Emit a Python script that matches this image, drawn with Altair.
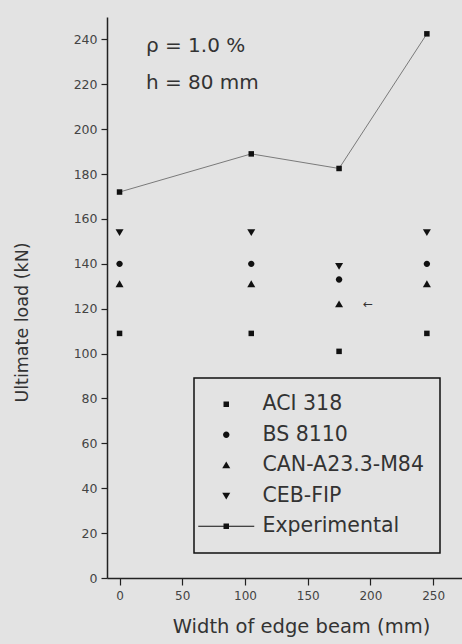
import altair as alt
import pandas as pd

# ---- data ----
width_mm = [0, 105, 175, 245]
aci_318 = [109, 109, 101, 109]
bs_8110 = [140, 140, 133, 140]
can_a23 = [131, 131, 122, 131]
ceb_fip = [154, 154, 139, 154]
experimental = [172, 189, 182.5, 242.5]

series = ["ACI 318", "BS 8110", "CAN-A23.3-M84", "CEB-FIP", "Experimental"]

y_ticks = [0, 10, 20, 30, 40, 50, 60, 70, 80, 90, 100, 110, 120, 130, 140,
           150, 160, 170, 180, 190, 200, 210, 220, 230, 240, 250]
x_ticks = [0, 25, 50, 75, 100, 125, 150, 175, 200, 225, 250]

annot_x = [21, 21]
annot_y = [237, 220.5]
annot_text = ["\u03c1 = 1.0 %", "h = 80 mm"]

arrow_x = [198]
arrow_y = [122]
arrow_text = ["\u2190"]

# ---- symbol paths (unit = 5 px at size 100) ----
P_SQ = "M-0.55,-0.55H0.55V0.55H-0.55Z"
P_CI = "M-0.64,0A0.64,0.64 0 1,0 0.64,0A0.64,0.64 0 1,0 -0.64,0Z"
P_TU = "M0,-0.74L0.8,0.62H-0.8Z"
P_TD = "M0,0.74L0.8,-0.62H-0.8Z"
P_EX = "M-5.6,-0.1H5.6V0.1H-5.6Z M-0.55,-0.55H0.55V0.55H-0.55Z"

rows = []
for name, vals in zip(series[:4], [aci_318, bs_8110, can_a23, ceb_fip]):
    for w, v in zip(width_mm, vals):
        rows.append({"w": w, "load": v, "method": name})
calc_df = pd.DataFrame(rows)
exp_df = pd.DataFrame({"w": width_mm, "load": experimental})
annot_df = pd.DataFrame({"x": annot_x, "y": annot_y, "t": annot_text})
arrow_df = pd.DataFrame({"x": arrow_x, "y": arrow_y, "t": arrow_text})

FONT = "DejaVu Sans"
AX = "#222222"

x_scale = alt.Scale(domain=[-10, 273], nice=False, zero=False)
y_scale = alt.Scale(domain=[0, 250], nice=False)

x_axis = alt.Axis(
    values=x_ticks,
    labelExpr="datum.value % 50 === 0 ? datum.label : ''",
    tickSize={"condition": {"test": "datum.value % 50 === 0", "value": 7}, "value": 4},
    grid=False, domainColor=AX, domainWidth=1.5, tickColor=AX, tickWidth=1.2,
    labelFont=FONT, labelFontSize=12, labelColor="#444444", labelPadding=5,
    title="Width of edge beam (mm)", titleFont=FONT, titleFontSize=19.5,
    titleFontWeight="normal", titleColor="#333333",
    titleX=194, titleY=54, titleAlign="center", titleBaseline="alphabetic",
)
y_axis = alt.Axis(
    values=y_ticks,
    labelExpr="datum.value % 20 === 0 ? datum.label : ''",
    tickSize={"condition": {"test": "datum.value % 20 === 0", "value": 6}, "value": 3},
    grid=False, domainColor=AX, domainWidth=1.5, tickColor=AX, tickWidth=1.2,
    labelFont=FONT, labelFontSize=12.5, labelColor="#444444", labelPadding=4,
    title="Ultimate load (kN)", titleFont=FONT, titleFontSize=17.5,
    titleFontWeight="normal", titleColor="#333333",
    titleX=-80, titleY=305, titleAngle=270, titleAlign="center",
    titleBaseline="alphabetic",
)

base_x = alt.X("w:Q", scale=x_scale, axis=x_axis)
base_y = alt.Y("load:Q", scale=y_scale, axis=y_axis)

line = alt.Chart(exp_df).mark_line(color="#7a7a7a", strokeWidth=1).encode(
    x=base_x, y=base_y
)

calc_pts = alt.Chart(calc_df).mark_point(
    filled=True, size=100, color="#111111", opacity=1
).encode(
    x=base_x,
    y=base_y,
    shape=alt.Shape(
        "method:N",
        scale=alt.Scale(domain=series, range=[P_SQ, P_CI, P_TU, P_TD, P_EX]),
        legend=alt.Legend(
            orient="none", legendX=87, legendY=361, title=None,
            strokeColor="#111111", padding=16,
            labelFont=FONT, labelFontSize=20.5, labelColor="#333333",
            labelExpr="datum.label + '\u2002'", labelLimit=300,
            rowPadding=9.5, symbolOffset=6, labelOffset=26,
            symbolSize=100, symbolFillColor="#111111",
        ),
    ),
)

exp_pts = alt.Chart(exp_df).mark_point(
    filled=True, size=100, color="#111111", opacity=1, shape=P_SQ
).encode(x=base_x, y=base_y)

annot = alt.Chart(annot_df).mark_text(
    align="left", baseline="middle", font=FONT, fontSize=20, color="#333333"
).encode(x=alt.X("x:Q", scale=x_scale), y=alt.Y("y:Q", scale=y_scale), text="t:N")

arrow = alt.Chart(arrow_df).mark_text(
    align="center", baseline="middle", font=FONT, fontSize=12, color="#333333"
).encode(x=alt.X("x:Q", scale=x_scale), y=alt.Y("y:Q", scale=y_scale), text="t:N")

chart = alt.layer(line, calc_pts, exp_pts, annot, arrow).properties(
    width=355, height=561,
    autosize=alt.AutoSizeParams(type="none"),
    padding={"left": 107, "top": 17, "right": 0, "bottom": 66},
    background="#e3e3e3",
).configure_view(stroke=None, fill="#e3e3e3").configure_legend(strokeWidth=1.5)

chart.save("out.html", embed_options={"renderer": "svg", "actions": False})
